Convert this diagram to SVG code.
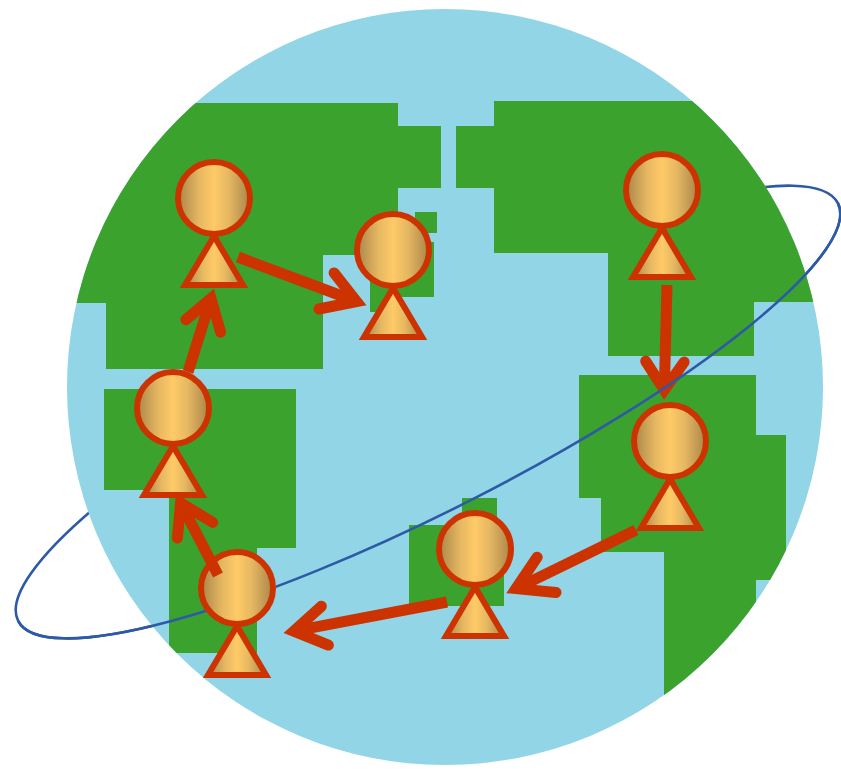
<svg xmlns="http://www.w3.org/2000/svg" width="841" height="769" viewBox="0 0 841 769">
  <defs>
    <style>
      .sea { fill: #92D5E6; }
      .land { fill: #3CA22E; }
      .orbit { fill: none; stroke: #2D5AA6; stroke-width: 2.6; }
      .fig { fill: url(#skin); stroke: #CC3300; stroke-width: 6; stroke-linejoin: miter; }
      .shaft { fill: none; stroke: #CC3300; stroke-width: 11; stroke-linecap: butt; }
      .tip { fill: none; stroke: #CC3300; stroke-width: 11; stroke-linecap: round; stroke-linejoin: miter; stroke-miterlimit: 6; }
    </style>
    <linearGradient id="skin" x1="0" y1="0" x2="1" y2="0">
      <stop offset="0" stop-color="#A9854A"/>
      <stop offset="0.3" stop-color="#E6B862"/>
      <stop offset="0.5" stop-color="#FFCA67"/>
      <stop offset="0.7" stop-color="#E6B862"/>
      <stop offset="1" stop-color="#A9854A"/>
    </linearGradient>
    <clipPath id="globeClip">
      <circle cx="445" cy="387" r="378"/>
    </clipPath>
    <!-- a person: body triangle under a round head -->
    <g id="figure">
      <polygon class="fig" points="0,38 -29,87 29,87"/>
      <circle class="fig" cx="0" cy="0" r="36"/>
    </g>
    <!-- hide the orbit where it passes behind the lower-left head -->
    <mask id="orbitMask" maskUnits="userSpaceOnUse" x="0" y="0" width="841" height="769">
      <rect width="841" height="769" fill="#fff"/>
      <circle cx="237" cy="588" r="39" fill="#000"/>
    </mask>
  </defs>

  <!-- far side of the orbit ring, covered by the globe -->
  <ellipse class="orbit" cx="428" cy="412" rx="460" ry="98" transform="rotate(-27 428 412)"/>

  <!-- globe -->
  <g id="globe">
    <circle class="sea" cx="445" cy="387" r="378"/>
    <g clip-path="url(#globeClip)">
      <polygon class="land" points="0,103 398,103 398,126 441,126 441,188 398,188 398,255 323,255 323,369 106,369 106,303 0,303"/>
      <rect class="land" x="415" y="212" width="22" height="21"/>
      <rect class="land" x="370" y="242" width="64" height="55"/>
      <rect class="land" x="370" y="287" width="25" height="25"/>
      <polygon class="land" points="456,126 494,126 494,101 841,101 841,302 754,302 754,356 608,356 608,253 494,253 494,188 456,188"/>
      <polygon class="land" points="579,375 756,375 756,435 786,435 786,580 756,580 756,769 664,769 664,552 601,552 601,498 579,498"/>
      <polygon class="land" points="104,389 296,389 296,548 257,548 257,653 169,653 169,490 104,490"/>
      <rect class="land" x="462" y="498" width="35" height="28"/>
      <rect class="land" x="409" y="525" width="95" height="81"/>
    </g>
  </g>

  <!-- people -->
  <g id="person-1"><use href="#figure" transform="translate(214 198)"/></g>
  <g id="person-2"><use href="#figure" transform="translate(393 250)"/></g>
  <g id="person-3"><use href="#figure" transform="translate(662 190)"/></g>
  <g id="person-4"><use href="#figure" transform="translate(173 408)"/></g>
  <g id="person-5"><use href="#figure" transform="translate(670 441)"/></g>
  <g id="person-6"><use href="#figure" transform="translate(475 549)"/></g>
  <g id="person-7"><use href="#figure" transform="translate(237 588)"/></g>

  <!-- arrows passing from person to person -->
  <g id="connectors">
    <g id="p4-p1">
      <line class="shaft" x1="188" y1="372" x2="211" y2="298.5"/>
      <polyline class="tip" points="185.8,319.8 211,298.5 220.6,332.2"/>
    </g>
    <g id="p1-p2">
      <line class="shaft" x1="238" y1="257" x2="356.6" y2="301.5"/>
      <polyline class="tip" points="334.1,272.9 356.6,301.5 318.9,309"/>
    </g>
    <g id="p3-p5">
      <line class="shaft" x1="667" y1="285" x2="664.3" y2="390"/>
      <polyline class="tip" points="645.7,361.2 664.3,390 684.1,362.1"/>
    </g>
    <g id="p5-p6">
      <line class="shaft" x1="636" y1="530" x2="516" y2="588.6"/>
      <polyline class="tip" points="537.2,557.2 516,588.6 556,592.5"/>
    </g>
    <g id="p6-p7">
      <line class="shaft" x1="447" y1="602" x2="293.8" y2="631.1"/>
      <polyline class="tip" points="321.3,606.3 293.8,631.1 328.4,645.1"/>
    </g>
    <g id="p7-p4">
      <line class="shaft" x1="218" y1="575" x2="180.6" y2="502.9"/>
      <polyline class="tip" points="177.4,538 180.6,502.9 212.7,522.4"/>
    </g>
  </g>

  <!-- near side of the orbit ring, in front of the globe -->
  <path class="orbit" mask="url(#orbitMask)" d="M837.9,203.2 A460,98 -27 0 1 18.1,620.8"/>
</svg>
